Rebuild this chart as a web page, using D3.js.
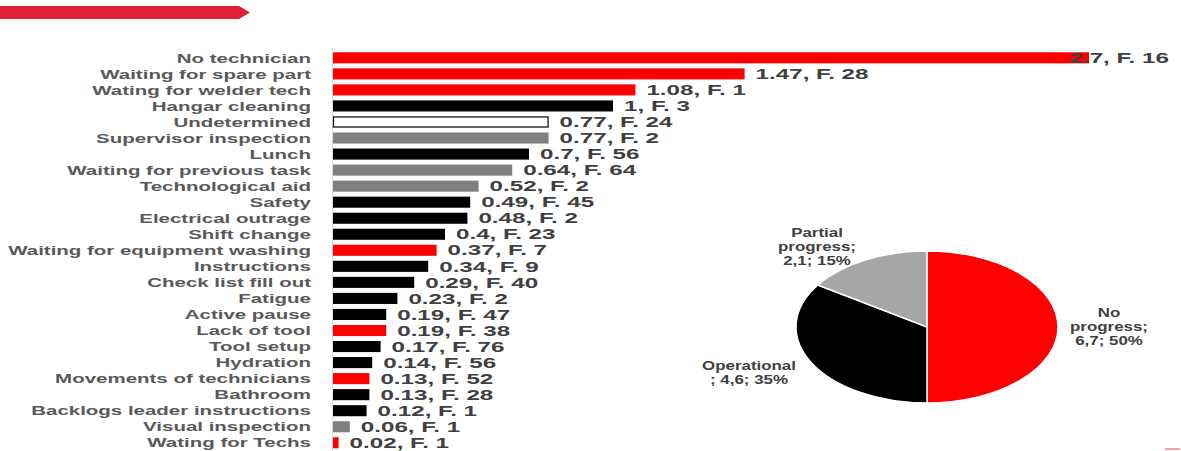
<!DOCTYPE html>
<html><head><meta charset="utf-8">
<script src="https://cdn.jsdelivr.net/npm/d3@7"></script>
<style>html,body{margin:0;padding:0;background:#fff;overflow:hidden}</style>
</head><body>
<svg id="c" width="1181" height="451"></svg>
<script>
const categories = ["No technician","Waiting for spare part","Wating for welder tech","Hangar cleaning","Undetermined","Supervisor inspection","Lunch","Waiting for previous task","Technological aid","Safety","Electrical outrage","Shift change","Waiting for equipment washing","Instructions","Check list fill out","Fatigue","Active pause","Lack of tool","Tool setup","Hydration","Movements of technicians","Bathroom","Backlogs leader instructions","Visual inspection","Wating for Techs"];
const hours = [2.7,1.47,1.08,1,0.77,0.77,0.7,0.64,0.52,0.49,0.48,0.4,0.37,0.34,0.29,0.23,0.19,0.19,0.17,0.14,0.13,0.13,0.12,0.06,0.02];
const frequency = [16,28,1,3,24,2,56,64,2,45,2,23,7,9,40,2,47,38,76,56,52,28,1,1,1];
const group = ["no","no","no","op","und","part","op","part","part","op","op","op","no","op","op","op","op","no","op","op","no","op","op","part","no"];

const pieNames = ["No progress","Operational","Partial progress"];
const pieValues = [6.7,4.6,2.1];
const piePercent = ["50%","35%","15%"];
const pieValueText = ["6,7","4,6","2,1"];

const colors = {no:"#FF0000", op:"#000000", part:"#808080", und:"#FFFFFF"};
const pieColors = ["#FF0000","#000000","#A6A6A6"];
const FONT = "'Liberation Sans', Arial, sans-serif";

const svg = d3.select("#c");

// header ribbon
svg.append("path").attr("d","M0,6 L239,6 L250,12.5 L239,19 L0,19 Z").attr("fill","#E01F35");
svg.append("line").attr("x1",1165).attr("x2",1180).attr("y1",449).attr("y2",449).attr("stroke","#F08080").attr("stroke-width",1.5);

// bar chart
const x = d3.scaleLinear().domain([0,2.7]).range([333,1089]);
const y = d3.scaleBand().domain(categories).range([49.8,450.8]).paddingInner(0.31).paddingOuter(0.155);

svg.append("line").attr("x1",332.5).attr("x2",332.5).attr("y1",48).attr("y2",451).attr("stroke","#D9D9D9").attr("stroke-width",1);

const rows = categories.map((c,i)=>({c, v:hours[i], f:frequency[i], g:group[i]}));

svg.append("g").selectAll("rect").data(rows).join("rect")
  .attr("x", d=> x(0) + (d.g==="und"?0.5:0))
  .attr("y", d=> y(d.c) + (d.g==="und"?0.5:0))
  .attr("width", d=> x(d.v)-x(0) - (d.g==="und"?1:0))
  .attr("height", d=> y.bandwidth() - (d.g==="und"?1:0))
  .attr("fill", d=>colors[d.g])
  .attr("stroke", d=> d.g==="und" ? "#000" : "none")
  .attr("stroke-width", 1.2);

// category labels (horizontally stretched like the original)
const catG = svg.append("g");
const catTexts = catG.selectAll("text").data(rows).join("text")
  .attr("text-anchor","end")
  .attr("font-family",FONT).attr("font-weight",700).attr("font-size","13px")
  .attr("fill","#595959")
  .attr("dy","0.36em")
  .text(d=>d.c);
let maxW = 0;
catTexts.each(function(){ maxW = Math.max(maxW, this.getComputedTextLength()); });
const sxCat = 303 / maxW;
catTexts.attr("transform", d=>`translate(311,${y(d.c)+y.bandwidth()/2}) scale(${sxCat},1)`);

// value labels
const valG = svg.append("g");
const valTexts = valG.selectAll("text").data(rows).join("text")
  .attr("font-family",FONT).attr("font-weight",700).attr("font-size","14px")
  .attr("fill","#404040")
  .attr("dy","0.37em")
  .text(d=>`${d.v}, F. ${d.f}`);
let refW = 1;
valTexts.filter((d,i)=>i===1).each(function(){ refW = this.getComputedTextLength(); });
const sxVal = 113 / refW;
valTexts.attr("transform", function(d){
  const w = this.getComputedTextLength()*sxVal;
  let tx = x(d.v) + 11;
  if (tx + w > 1169) tx = 1169 - w;
  return `translate(${tx},${y(d.c)+y.bandwidth()/2}) scale(${sxVal},1)`;
});

// pie (elliptical)
const cx = 927, cy = 327, rx = 131, ry = 76;
const pie = d3.pie().sort(null).value(d=>d)(pieValues);
const arc = d3.arc().innerRadius(0).outerRadius(1);
svg.append("g").attr("transform",`translate(${cx},${cy}) scale(${rx},${ry})`)
  .selectAll("path").data(pie).join("path")
  .attr("d",arc)
  .attr("fill",(d,i)=>pieColors[i])
  .attr("stroke","#fff").attr("stroke-width",1.5)
  .attr("vector-effect","non-scaling-stroke");

const pieLabels = [
  {lines:["No","progress;",`${pieValueText[0]}; ${piePercent[0]}`], x:1109, y:[313,327,341]},
  {lines:["Operational",`; ${pieValueText[1]}; ${piePercent[1]}`], x:749, y:[366,380]},
  {lines:["Partial","progress;",`${pieValueText[2]}; ${piePercent[2]}`], x:817, y:[233,247,261]}
];
const pl = svg.append("g");
const pieTexts = [];
pieLabels.forEach(L=>{
  L.lines.forEach((t,k)=>{
    const el = pl.append("text").attr("text-anchor","middle")
      .attr("font-family",FONT).attr("font-weight",700).attr("font-size","12px")
      .attr("fill","#404040").attr("dy","0.36em")
      .datum({x:L.x, y:L.y[k]})
      .text(t);
    pieTexts.push(el);
  });
});
let opW = 1;
pl.selectAll("text").filter(function(){ return this.textContent==="Operational"; }).each(function(){ opW = this.getComputedTextLength(); });
const sxPie = 94 / opW;
pl.selectAll("text").attr("transform", d=>`translate(${d.x},${d.y}) scale(${sxPie},1)`);
</script>
</body></html>
